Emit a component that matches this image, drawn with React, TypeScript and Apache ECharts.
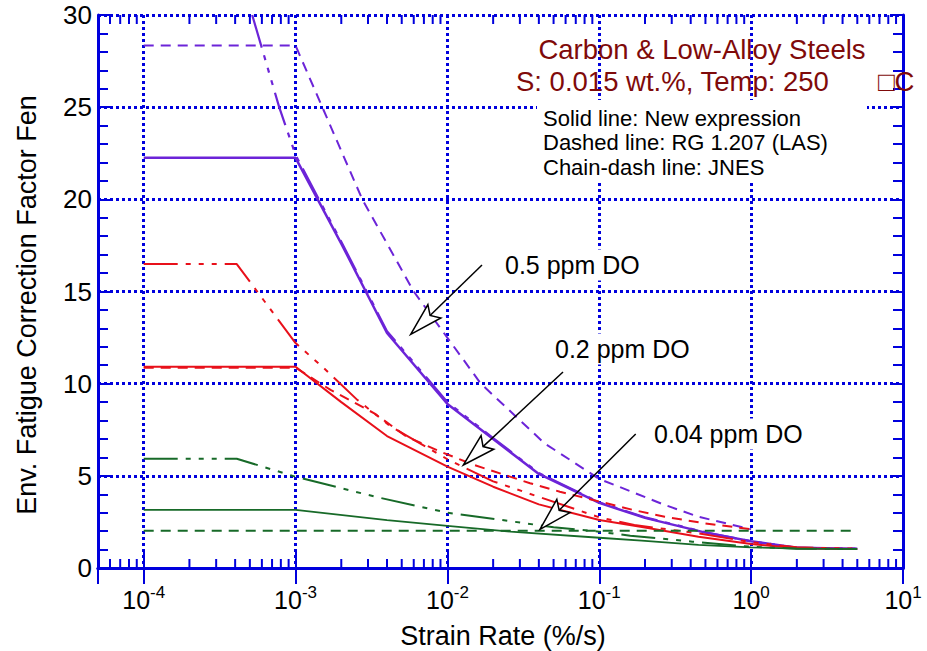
import React, { useEffect, useRef } from "react";
import * as echarts from "echarts";

// ---------- data (strain rate in %/s, Fen) ----------
const purpleSolidX = [1e-4, 1e-3, 2e-3, 4e-3, 1e-2, 2e-2, 4e-2, 0.1, 0.2, 0.5, 1, 2, 5];
const purpleSolidY = [22.25, 22.25, 17.6, 12.75, 8.9, 7.0, 5.1, 3.53, 2.72, 1.92, 1.45, 1.1, 1.05];

const purpleDashX = [1e-4, 1e-3, 1.5e-3, 2.75e-3, 6e-3, 1.66e-2, 4.35e-2, 0.1, 0.163, 0.27, 0.45, 1];
const purpleDashY = [28.34, 28.34, 25, 20, 15, 10, 6.77, 4.83, 4.14, 3.42, 2.78, 2.1];

const purpleChainX = [5.18e-4, 7.8e-4, 1e-3, 2e-3, 4e-3, 1e-2, 2e-2, 4e-2, 0.1, 0.2, 0.5, 1, 2, 5];
const purpleChainY = [30, 25, 22.4, 17.7, 12.85, 9.0, 7.05, 5.15, 3.56, 2.75, 1.94, 1.45, 1.1, 1.05];

const redSolidX = [1e-4, 1e-3, 2e-3, 4e-3, 1e-2, 2e-2, 4e-2, 0.1, 0.2, 0.45, 1, 2, 5];
const redSolidY = [10.92, 10.92, 9.0, 7.16, 5.5, 4.41, 3.45, 2.6, 2.2, 1.7, 1.3, 1.07, 1.03];

const redDashX = [1e-4, 1e-3, 1.7e-3, 3.3e-3, 5.4e-3, 9e-3, 1.5e-2, 3.5e-2, 5.5e-2, 0.167, 0.27, 0.5, 1];
const redDashY = [10.87, 10.87, 9.66, 8.39, 7.12, 6.31, 5.59, 4.6, 4.14, 3.15, 2.78, 2.42, 2.1];

const redChainX = [1e-4, 4.1e-4, 1e-3, 1.5e-3, 2.55e-3, 4.2e-3, 1e-2, 2e-2, 0.1, 0.17, 0.45, 1, 2, 5];
const redChainY = [16.49, 16.49, 12.2, 10.92, 9.12, 7.7, 5.9, 4.7, 2.75, 2.33, 1.88, 1.4, 1.12, 1.05];

const greenSolidX = [1e-4, 1e-3, 4e-3, 1e-2, 2.6e-2, 0.1, 0.19, 0.45, 1, 2, 5];
const greenSolidY = [3.15, 3.15, 2.6, 2.28, 1.97, 1.64, 1.48, 1.25, 1.12, 1.05, 1.03];

const greenDashX = [1e-4, 5];
const greenDashY = [2.02, 2.02];

const greenChainX = [1e-4, 4.1e-4, 1e-3, 3.45e-3, 1e-2, 2.3e-2, 5e-2, 0.1, 0.16, 0.41, 1, 2, 5];
const greenChainY = [5.93, 5.93, 4.95, 3.84, 3.0, 2.6, 2.21, 1.97, 1.75, 1.43, 1.15, 1.05, 1.03];

const xMin = 5e-5;
const xMax = 10;
const yMin = 0;
const yMax = 30;
const minorMultipliers = [2, 3, 4, 5, 6, 7, 8, 9];
const minorDecades = [-5, -4, -3, -2, -1, 0];

const titleLine1 = "Carbon & Low-Alloy Steels";
const titleLine2 = "S: 0.015 wt.%, Temp: 250";
const titleUnit = "□C";
const legendLines = ["Solid line: New expression", "Dashed line: RG 1.207 (LAS)", "Chain-dash line: JNES"];
const doLabels = ["0.5 ppm DO", "0.2 ppm DO", "0.04 ppm DO"];

// ---------- styles ----------
const BLUE = "#0000DD";
const PURPLE = "#6C24D8";
const RED = "#E8101A";
const GREEN = "#176A28";
const DARKRED = "#7F0A0A";
const FONT = '"Liberation Sans", Arial, sans-serif';
const DASH = [10, 7];
const CHAIN = [34, 8, 5, 8, 5, 8, 5, 8];

function pairs(xs: number[], ys: number[]) {
  return xs.map((x, i) => [x, ys[i]]);
}

function arrow(sx: number, sy: number, tx: number, ty: number) {
  const dx = sx - tx;
  const dy = sy - ty;
  const L = Math.hypot(dx, dy);
  const ux = dx / L;
  const uy = dy / L;
  const nx = -uy;
  const ny = ux;
  const headLen = 33;
  const halfW = 9.3;
  const notch = 27;
  const bx = tx + ux * headLen;
  const by = ty + uy * headLen;
  const w1 = [bx + nx * halfW, by + ny * halfW];
  const w2 = [bx - nx * halfW, by - ny * halfW];
  const nt = [tx + ux * notch, ty + uy * notch];
  return [
    {
      type: "line",
      z: 30,
      shape: { x1: sx, y1: sy, x2: nt[0], y2: nt[1] },
      style: { stroke: "#000", lineWidth: 1.5 },
    },
    {
      type: "polygon",
      z: 31,
      shape: { points: [[tx, ty], w1, nt, w2] },
      style: { fill: "#fff", stroke: "#000", lineWidth: 1.5 },
    },
  ];
}

function lineSeries(name: string, xs: number[], ys: number[], color: string, type: any, width: number) {
  return {
    name,
    type: "line",
    data: pairs(xs, ys),
    symbol: "none",
    clip: true,
    z: 5,
    lineStyle: { color, width, type },
  };
}

export default function App() {
  const ref = useRef<HTMLDivElement>(null);

  useEffect(() => {
    if (!ref.current) return;
    const chart = echarts.init(ref.current, undefined, { renderer: "svg" });

    const minorTicks: number[] = [];
    minorDecades.forEach((d) => {
      minorMultipliers.forEach((m) => {
        const v = m * Math.pow(10, d);
        if (v > xMin * 1.0001 && v < xMax) minorTicks.push(v);
      });
    });

    const textStyle = (size: number, color = "#000") => ({
      font: `${size}px ${FONT}`,
      fill: color,
    });

    const option: any = {
      animation: false,
      backgroundColor: "#fff",
      grid: { left: 98, right: 24, top: 15, bottom: 83 },
      xAxis: [
        {
          type: "log",
          logBase: 10,
          min: xMin,
          max: xMax,
          position: "bottom",
          axisLine: { show: true, lineStyle: { color: BLUE, width: 3 } },
          axisTick: { show: true, inside: true, length: 16, lineStyle: { color: BLUE, width: 2 } },
          axisLabel: {
            showMinLabel: false,
            margin: 14,
            formatter: (v: number) => `{a|10}{b|${Math.round(Math.log10(v))}}`,
            rich: {
              a: { fontFamily: FONT, fontSize: 25, color: "#000", verticalAlign: "bottom", lineHeight: 30 },
              b: {
                fontFamily: FONT,
                fontSize: 17,
                color: "#000",
                verticalAlign: "bottom",
                lineHeight: 30,
                padding: [0, 0, 11, 0],
              },
            },
          },
          splitLine: { show: true, lineStyle: { color: BLUE, width: 3, type: [3, 3] } },
        },
        {
          type: "log",
          logBase: 10,
          min: xMin,
          max: xMax,
          position: "top",
          axisLine: { show: true, lineStyle: { color: BLUE, width: 3 } },
          axisTick: { show: true, inside: true, length: 16, lineStyle: { color: BLUE, width: 2 } },
          axisLabel: { show: false },
          splitLine: { show: false },
        },
      ],
      yAxis: [
        {
          type: "value",
          min: yMin,
          max: yMax,
          interval: 5,
          position: "left",
          axisLine: { show: true, lineStyle: { color: BLUE, width: 3 } },
          axisTick: { show: true, inside: true, length: 12, lineStyle: { color: BLUE, width: 2 } },
          minorTick: { show: true, splitNumber: 5, length: 10, lineStyle: { color: BLUE, width: 2 } },
          axisLabel: { margin: 6, fontFamily: FONT, fontSize: 26, color: "#000" },
          splitLine: { show: true, lineStyle: { color: BLUE, width: 3, type: [3, 3] } },
        },
        {
          type: "value",
          min: yMin,
          max: yMax,
          interval: 5,
          position: "right",
          axisLine: { show: true, lineStyle: { color: BLUE, width: 3 } },
          axisTick: { show: true, inside: true, length: 12, lineStyle: { color: BLUE, width: 2 } },
          minorTick: { show: true, splitNumber: 5, length: 10, lineStyle: { color: BLUE, width: 2 } },
          axisLabel: { show: false },
          splitLine: { show: false },
        },
      ],
      series: [
        {
          type: "custom",
          silent: true,
          clip: false,
          z: 3,
          xAxisIndex: 0,
          yAxisIndex: 0,
          data: minorTicks.map((v) => [v, yMin]),
          renderItem: (params: any, api: any) => {
            const v = api.value(0);
            const b = api.coord([v, yMin]);
            const t = api.coord([v, yMax]);
            return {
              type: "group",
              children: [
                { type: "line", shape: { x1: b[0], y1: b[1], x2: b[0], y2: b[1] - 9 }, style: { stroke: BLUE, lineWidth: 2 } },
                { type: "line", shape: { x1: t[0], y1: t[1], x2: t[0], y2: t[1] + 9 }, style: { stroke: BLUE, lineWidth: 2 } },
              ],
            };
          },
        },
        lineSeries("purple-solid", purpleSolidX, purpleSolidY, PURPLE, "solid", 2.5),
        lineSeries("purple-dash", purpleDashX, purpleDashY, PURPLE, DASH, 2),
        lineSeries("purple-chain", purpleChainX, purpleChainY, PURPLE, CHAIN, 2.2),
        lineSeries("red-solid", redSolidX, redSolidY, RED, "solid", 2),
        lineSeries("red-dash", redDashX, redDashY, RED, DASH, 2),
        lineSeries("red-chain", redChainX, redChainY, RED, CHAIN, 2),
        lineSeries("green-solid", greenSolidX, greenSolidY, GREEN, "solid", 1.8),
        lineSeries("green-dash", greenDashX, greenDashY, GREEN, DASH, 2),
        lineSeries("green-chain", greenChainX, greenChainY, GREEN, CHAIN, 2),
      ],
      graphic: [
        // white panel behind legend text
        { type: "rect", z: 1, shape: { x: 537, y: 100, width: 330, height: 83 }, style: { fill: "#fff" } },
        {
          type: "text",
          z: 40,
          x: 702,
          y: 49,
          style: { ...textStyle(27.5, DARKRED), text: titleLine1, align: "center", verticalAlign: "middle" },
        },
        {
          type: "text",
          z: 40,
          x: 516,
          y: 81,
          style: { ...textStyle(27.5, DARKRED), text: titleLine2, align: "left", verticalAlign: "middle" },
        },
        {
          type: "text",
          z: 40,
          x: 878,
          y: 81,
          style: { ...textStyle(27.5, DARKRED), text: titleUnit, align: "left", verticalAlign: "middle" },
        },
        ...legendLines.map((t, i) => ({
          type: "text",
          z: 40,
          x: 543,
          y: 118 + i * 24.5,
          style: { ...textStyle(22), text: t, align: "left", verticalAlign: "middle" },
        })),
        ...[
          [501, 265],
          [551, 349],
          [650, 434],
        ].map((p, i) => ({
          type: "text",
          z: 40,
          x: p[0],
          y: p[1],
          style: {
            ...textStyle(25),
            text: doLabels[i],
            align: "left",
            verticalAlign: "middle",
            backgroundColor: "#fff",
            padding: [3, 4],
          },
        })),
        ...arrow(482, 265, 410.7, 334.3),
        ...arrow(563, 372, 463.3, 465),
        ...arrow(635.7, 434, 540, 529.3),
        {
          type: "text",
          z: 40,
          x: 503,
          y: 636,
          style: { ...textStyle(27), text: "Strain Rate (%/s)", align: "center", verticalAlign: "middle" },
        },
        {
          type: "text",
          z: 40,
          x: 27,
          y: 305,
          rotation: Math.PI / 2,
          style: {
            ...textStyle(27),
            text: "Env. Fatigue Correction Factor Fen",
            align: "center",
            verticalAlign: "middle",
          },
        },
      ],
    };

    chart.setOption(option);
    return () => chart.dispose();
  }, []);

  return (
    <div
      ref={ref}
      style={{ position: "fixed", left: 0, top: 0, width: 927, height: 651, background: "#fff" }}
    />
  );
}
